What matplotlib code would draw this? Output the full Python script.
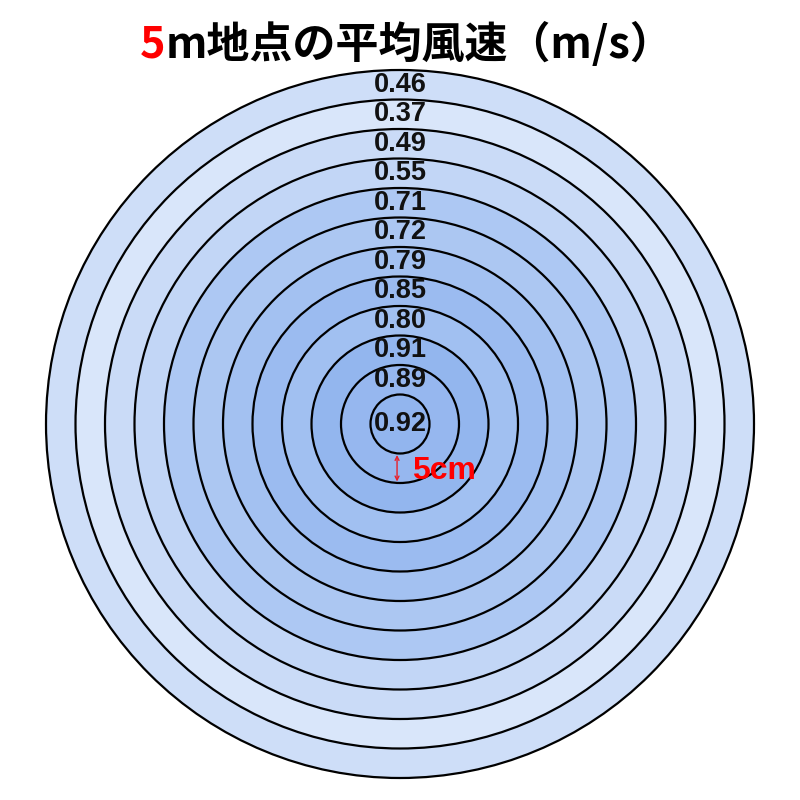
import matplotlib
matplotlib.use("Agg")
import matplotlib.pyplot as plt
from matplotlib.patches import Circle
from matplotlib.colors import LinearSegmentedColormap, Normalize

# Mean wind speed at each ring, from the centre outward (m/s)
ring_values = [0.92, 0.89, 0.91, 0.80, 0.85, 0.79, 0.72, 0.71, 0.55, 0.49, 0.37, 0.46]
ring_labels = [f"{v:.2f}" for v in ring_values]
title_head = "5"
title_rest = "m地点の平均風速（m/s）"
step_label = "5cm"

cmap = LinearSegmentedColormap.from_list("wind", ["#d9e6fa", "#92b5ee"])
norm = Normalize(vmin=min(ring_values), vmax=max(ring_values))

fig = plt.figure(figsize=(8, 8), dpi=100)
ax = fig.add_axes([0, 0, 1, 1])
ring_px = 29.5
ax.set_xlim(-400 / ring_px, 400 / ring_px)
ax.set_ylim(-376 / ring_px, 424 / ring_px)
ax.set_aspect("equal")
ax.axis("off")

n = len(ring_values)
# outer circles first so the inner ones sit on top
for i in range(n - 1, -1, -1):
    ax.add_patch(Circle((0, 0), i + 1, facecolor=cmap(norm(ring_values[i])),
                        edgecolor="black", linewidth=1.6))

for i, lab in enumerate(ring_labels):
    y = 0 if i == 0 else i + 0.5
    ax.text(0, y, lab, ha="center", va="center", fontsize=19.5,
            fontweight="bold", family="Liberation Sans", color="#111111")

# ring width marker
ax.annotate("", xy=(-0.1, -1.05), xytext=(-0.1, -1.95),
            arrowprops=dict(arrowstyle="<->", color="#e8202a", lw=1.0,
                            mutation_scale=7, shrinkA=0, shrinkB=0))
ax.text(0.4, -1.6, step_label, ha="left", va="center", fontsize=23,
        fontweight="bold", family="Liberation Sans", color="#ff0000")

# title: red "5" followed by black text, centred as one line
tfont = dict(fontsize=31, fontweight="bold", family=["Noto Sans CJK JP", "DejaVu Sans"])
t1 = fig.text(0, 0.945, title_head, color="#ff0000", va="center", ha="left", **tfont)
t2 = fig.text(0, 0.945, title_rest, color="black", va="center", ha="left", **tfont)
fig.canvas.draw()
r = fig.canvas.get_renderer()
w1 = t1.get_window_extent(r).width / fig.bbox.width
w2 = t2.get_window_extent(r).width / fig.bbox.width
x0 = 0.508 - (w1 + w2) / 2
t1.set_x(x0)
t2.set_x(x0 + w1)

fig.savefig("out.png", dpi=100, facecolor="white")
